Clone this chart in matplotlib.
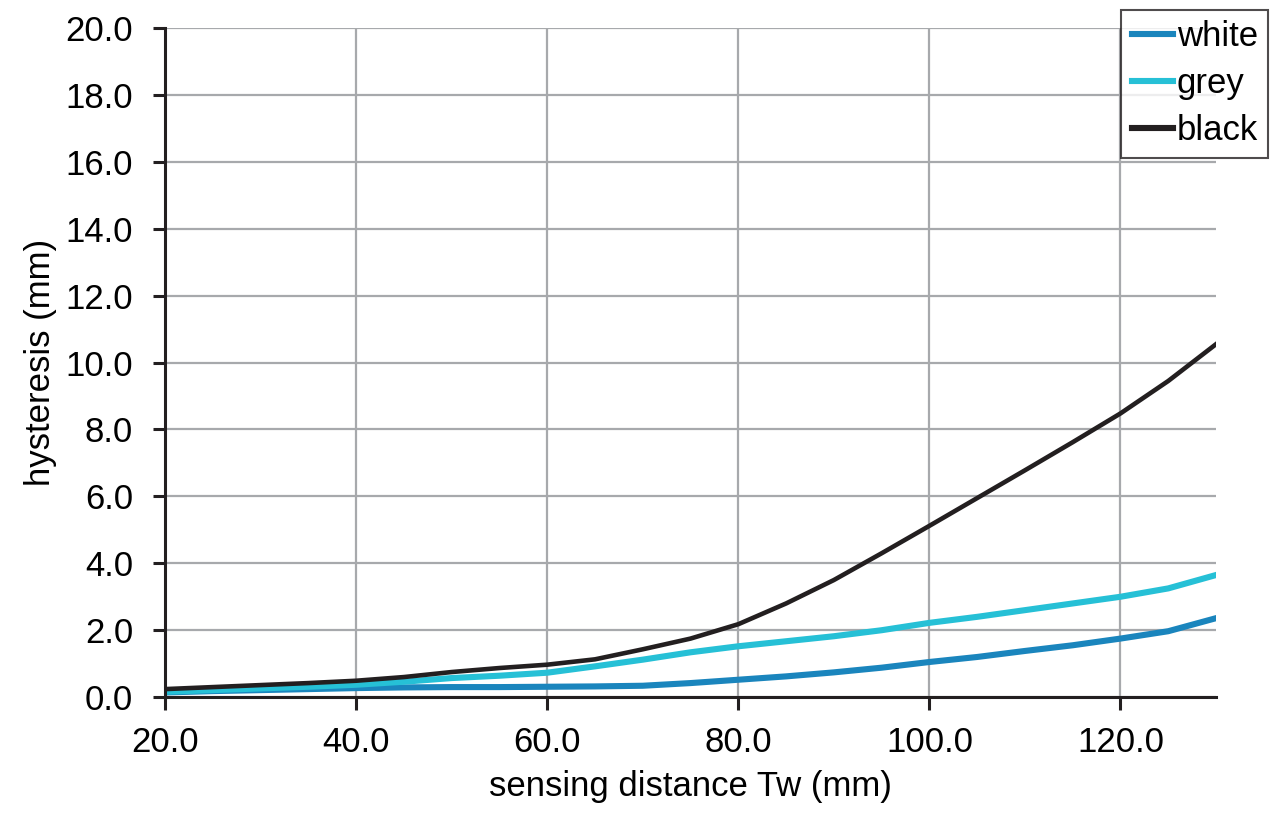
import matplotlib.pyplot as plt

plt.rcParams['font.family'] = ['Liberation Sans', 'DejaVu Sans']

# sensing distance (mm)
distance = [20, 25, 30, 35, 40, 45, 50, 55, 60, 65, 70, 75, 80, 85, 90,
            95, 100, 105, 110, 115, 120, 125, 130]
# hysteresis (mm) per target colour
white = [0.14, 0.18, 0.21, 0.24, 0.27, 0.29, 0.30, 0.30, 0.31, 0.32, 0.34,
         0.42, 0.52, 0.62, 0.74, 0.88, 1.05, 1.20, 1.38, 1.55, 1.75, 1.97, 2.36]
grey = [0.16, 0.21, 0.26, 0.31, 0.37, 0.46, 0.57, 0.64, 0.73, 0.92, 1.12,
        1.34, 1.52, 1.67, 1.82, 2.00, 2.22, 2.40, 2.60, 2.80, 3.00, 3.25, 3.65]
black = [0.24, 0.30, 0.36, 0.42, 0.49, 0.60, 0.75, 0.87, 0.97, 1.13, 1.43,
         1.75, 2.18, 2.80, 3.50, 4.30, 5.12, 5.95, 6.78, 7.62, 8.48, 9.45, 10.55]

fig = plt.figure(figsize=(12.8, 8.25), dpi=100)
ax = fig.add_axes([0.129, 0.155, 0.821, 0.811])

ax.plot(distance, white, color='#1a85bd', lw=4.4, label='white')
ax.plot(distance, grey, color='#26c0d6', lw=4.4, label='grey')
ax.plot(distance, black, color='#231f20', lw=3.3, label='black')

ax.set_xlim(20, 130)
ax.set_ylim(0, 20)
ax.set_xticks([20, 40, 60, 80, 100, 120])
ax.set_yticks(range(0, 21, 2))
ax.xaxis.set_major_formatter(lambda v, p: '%.1f' % v)
ax.yaxis.set_major_formatter(lambda v, p: '%.1f' % v)
ax.grid(True, color='#a7a9ac', lw=1.6)
ax.set_axisbelow(True)

for s in ['top', 'right']:
    ax.spines[s].set_visible(False)
for s in ['left', 'bottom']:
    ax.spines[s].set_color('#231f20')
    ax.spines[s].set_linewidth(2.2)
ax.tick_params(direction='out', length=9, width=2.2, color='#231f20',
               labelsize=25)
ax.tick_params(axis='x', pad=12)
ax.tick_params(axis='y', pad=14)

ax.set_xlabel('sensing distance Tw (mm)', fontsize=25, labelpad=8)
ax.set_ylabel('hysteresis (mm)', fontsize=25, labelpad=6)

leg = fig.legend(loc='upper right', bbox_to_anchor=(0.991, 0.988),
                 fontsize=25, handlelength=1.2, handletextpad=0.1,
                 borderpad=0.3, labelspacing=0.4, fancybox=False,
                 borderaxespad=0)
leg.get_frame().set_edgecolor('#231f20')
leg.get_frame().set_linewidth(1.5)
for h in leg.get_lines():
    h.set_linewidth(4.4)

fig.savefig('out.png', dpi=100)
